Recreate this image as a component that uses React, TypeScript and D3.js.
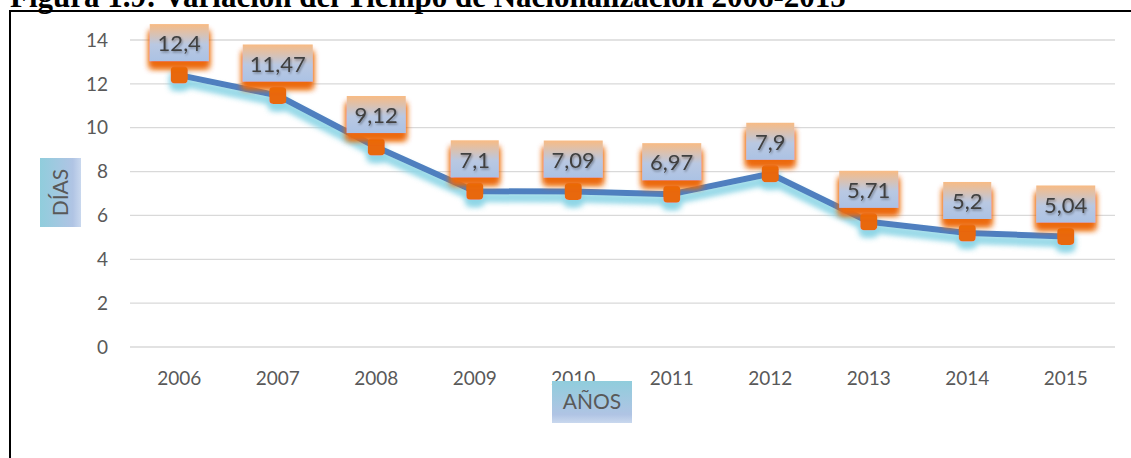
import { useRef, useEffect } from "react";
import * as d3 from "d3";

const YEARS = ["2006", "2007", "2008", "2009", "2010", "2011", "2012", "2013", "2014", "2015"];
const DAYS = [12.4, 11.47, 9.12, 7.1, 7.09, 6.97, 7.9, 5.71, 5.2, 5.04];
const Y_TICKS = [0, 2, 4, 6, 8, 10, 12, 14];

const TITLE = "Figura 1.9: Variación del Tiempo de Nacionalización 2006-2015";
const FONT = "Lato, 'Open Sans', sans-serif";

export default function App() {
  const svgRef = useRef<SVGSVGElement | null>(null);

  useEffect(() => {
    const svg = d3.select(svgRef.current);
    svg.selectAll("*").remove();

    const W = 1131;
    const H = 458;

    const x = d3.scaleBand<string>().domain(YEARS).range([130, 1115]);
    const y = d3.scaleLinear().domain([0, 14]).range([347, 40]);
    const cx = (yr: string) => (x(yr) as number) + x.bandwidth() / 2;

    const defs = svg.append("defs");

    // gradient for the value boxes: orange top -> blue bottom
    const lg = defs.append("linearGradient").attr("id", "lblGrad").attr("x1", 0).attr("y1", 0).attr("x2", 0).attr("y2", 1);
    lg.append("stop").attr("offset", "0%").attr("stop-color", "#f8bb84");
    lg.append("stop").attr("offset", "55%").attr("stop-color", "#b9c8e2");
    lg.append("stop").attr("offset", "100%").attr("stop-color", "#abc2e4");

    // axis title boxes
    const ag = defs.append("linearGradient").attr("id", "axGradV").attr("x1", 0).attr("y1", 0).attr("x2", 0).attr("y2", 1);
    ag.append("stop").attr("offset", "0%").attr("stop-color", "#90cddc");
    ag.append("stop").attr("offset", "80%").attr("stop-color", "#b0c4e4");
    ag.append("stop").attr("offset", "100%").attr("stop-color", "#c9d8ee");
    const ah = defs.append("linearGradient").attr("id", "axGradH").attr("x1", 0).attr("y1", 0).attr("x2", 1).attr("y2", 0);
    ah.append("stop").attr("offset", "0%").attr("stop-color", "#90cddc");
    ah.append("stop").attr("offset", "80%").attr("stop-color", "#b0c4e4");
    ah.append("stop").attr("offset", "100%").attr("stop-color", "#c9d8ee");

    // orange glow under label boxes
    const of = defs.append("filter").attr("id", "orangeGlow").attr("x", "-30%").attr("y", "-30%").attr("width", "160%").attr("height", "180%");
    of.append("feFlood").attr("flood-color", "#ec6a0c").attr("result", "c");
    of.append("feComposite").attr("in", "c").attr("in2", "SourceAlpha").attr("operator", "in").attr("result", "s");
    of.append("feOffset").attr("in", "s").attr("dy", 7).attr("result", "so");
    of.append("feGaussianBlur").attr("in", "so").attr("stdDeviation", 3).attr("result", "sb");
    const om = of.append("feMerge");
    om.append("feMergeNode").attr("in", "sb");
    om.append("feMergeNode").attr("in", "sb");
    om.append("feMergeNode").attr("in", "SourceGraphic");

    // cyan glow under the line and markers
    const cf = defs.append("filter").attr("id", "cyanGlow").attr("x", "-10%").attr("y", "-30%").attr("width", "120%").attr("height", "180%");
    cf.append("feFlood").attr("flood-color", "#8fd6e6").attr("result", "c");
    cf.append("feComposite").attr("in", "c").attr("in2", "SourceAlpha").attr("operator", "in").attr("result", "s");
    cf.append("feOffset").attr("in", "s").attr("dy", 6).attr("result", "so");
    cf.append("feGaussianBlur").attr("in", "so").attr("stdDeviation", 3).attr("result", "sb");
    const cm = cf.append("feMerge");
    cm.append("feMergeNode").attr("in", "sb");
    cm.append("feMergeNode").attr("in", "sb");
    cm.append("feMergeNode").attr("in", "SourceGraphic");

    // text shadow
    const tf = defs.append("filter").attr("id", "txtShadow");
    tf.append("feDropShadow").attr("dx", 1).attr("dy", 1.5).attr("stdDeviation", 1).attr("flood-color", "#000").attr("flood-opacity", 0.35);

    svg.append("rect").attr("width", W).attr("height", H).attr("fill", "#fff");

    // --- Page title (cut off at top, as in the source page) ---
    svg.append("text")
      .attr("x", 10)
      .attr("y", 7)
      .attr("font-family", "'Liberation Serif', 'Times New Roman', serif")
      .attr("font-weight", "bold")
      .attr("font-size", 31)
      .attr("fill", "#000")
      .text(TITLE);

    // --- Frame ---
    svg.append("path")
      .attr("d", `M10,${H + 2} V11 H${W + 2}`)
      .attr("fill", "none")
      .attr("stroke", "#000")
      .attr("stroke-width", 2);

    // --- Grid ---
    svg.append("g")
      .selectAll("line")
      .data(Y_TICKS)
      .join("line")
      .attr("x1", 130)
      .attr("x2", 1115)
      .attr("y1", (d) => y(d))
      .attr("y2", (d) => y(d))
      .attr("stroke", "#d9d9d9")
      .attr("stroke-width", 1.3);

    // y tick labels
    svg.append("g")
      .selectAll("text")
      .data(Y_TICKS)
      .join("text")
      .attr("x", 108)
      .attr("y", (d) => y(d))
      .attr("dy", "0.35em")
      .attr("text-anchor", "end")
      .attr("font-family", FONT)
      .attr("font-size", 19)
      .attr("fill", "#595959")
      .text((d) => d);

    // x tick labels
    svg.append("g")
      .selectAll("text")
      .data(YEARS)
      .join("text")
      .attr("x", (d) => cx(d))
      .attr("y", 378)
      .attr("dy", "0.35em")
      .attr("text-anchor", "middle")
      .attr("font-family", FONT)
      .attr("font-size", 19)
      .attr("fill", "#595959")
      .text((d) => d);

    // --- Axis titles ---
    svg.append("rect").attr("x", 40).attr("y", 158).attr("width", 41).attr("height", 69).attr("fill", "url(#axGradH)");
    svg.append("text")
      .attr("transform", "translate(61,192.5) rotate(-90)")
      .attr("text-anchor", "middle")
      .attr("dy", "0.35em")
      .attr("font-family", FONT)
      .attr("font-size", 21)
      .attr("fill", "#595959")
      .text("DÍAS");

    svg.append("rect").attr("x", 552).attr("y", 381).attr("width", 80).attr("height", 42).attr("fill", "url(#axGradV)");
    svg.append("text")
      .attr("x", 592)
      .attr("y", 402)
      .attr("dy", "0.35em")
      .attr("text-anchor", "middle")
      .attr("font-family", FONT)
      .attr("font-size", 21)
      .attr("fill", "#595959")
      .text("AÑOS");

    // --- Line + markers ---
    const pts = YEARS.map((yr, i) => ({ yr, v: DAYS[i] }));
    const line = d3.line<{ yr: string; v: number }>().x((d) => cx(d.yr)).y((d) => y(d.v));

    const series = svg.append("g").attr("filter", "url(#cyanGlow)");
    series.append("path")
      .attr("d", line(pts))
      .attr("fill", "none")
      .attr("stroke", "#4f7fbf")
      .attr("stroke-width", 6)
      .attr("stroke-linejoin", "round");
    series.selectAll("rect")
      .data(pts)
      .join("rect")
      .attr("x", (d) => cx(d.yr) - 8.5)
      .attr("y", (d) => y(d.v) - 8.5)
      .attr("width", 17)
      .attr("height", 17)
      .attr("rx", 4)
      .attr("fill", "#e8680a");

    // --- Value labels ---
    const fmt = (v: number) => String(v).replace(".", ",");
    const labels = svg.append("g");
    pts.forEach((d) => {
      const t = fmt(d.v);
      const bw = t.length * 11 + 15;
      const bh = 37;
      const px = cx(d.yr);
      const py = y(d.v) - 14;
      const g = labels.append("g");
      g.append("rect")
        .attr("x", px - bw / 2)
        .attr("y", py - bh)
        .attr("width", bw)
        .attr("height", bh)
        .attr("fill", "url(#lblGrad)")
        .attr("filter", "url(#orangeGlow)");
      g.append("text")
        .attr("x", px)
        .attr("y", py - bh / 2 + 1)
        .attr("dy", "0.35em")
        .attr("text-anchor", "middle")
        .attr("font-family", FONT)
        .attr("font-size", 22)
        .attr("fill", "#404040")
        .attr("filter", "url(#txtShadow)")
        .text(t);
    });
  }, []);

  return (
    <div style={{ position: "fixed", left: 0, top: 0, width: 1131, height: 458, overflow: "hidden" }}>
      <svg ref={svgRef} width={1131} height={458} />
    </div>
  );
}
